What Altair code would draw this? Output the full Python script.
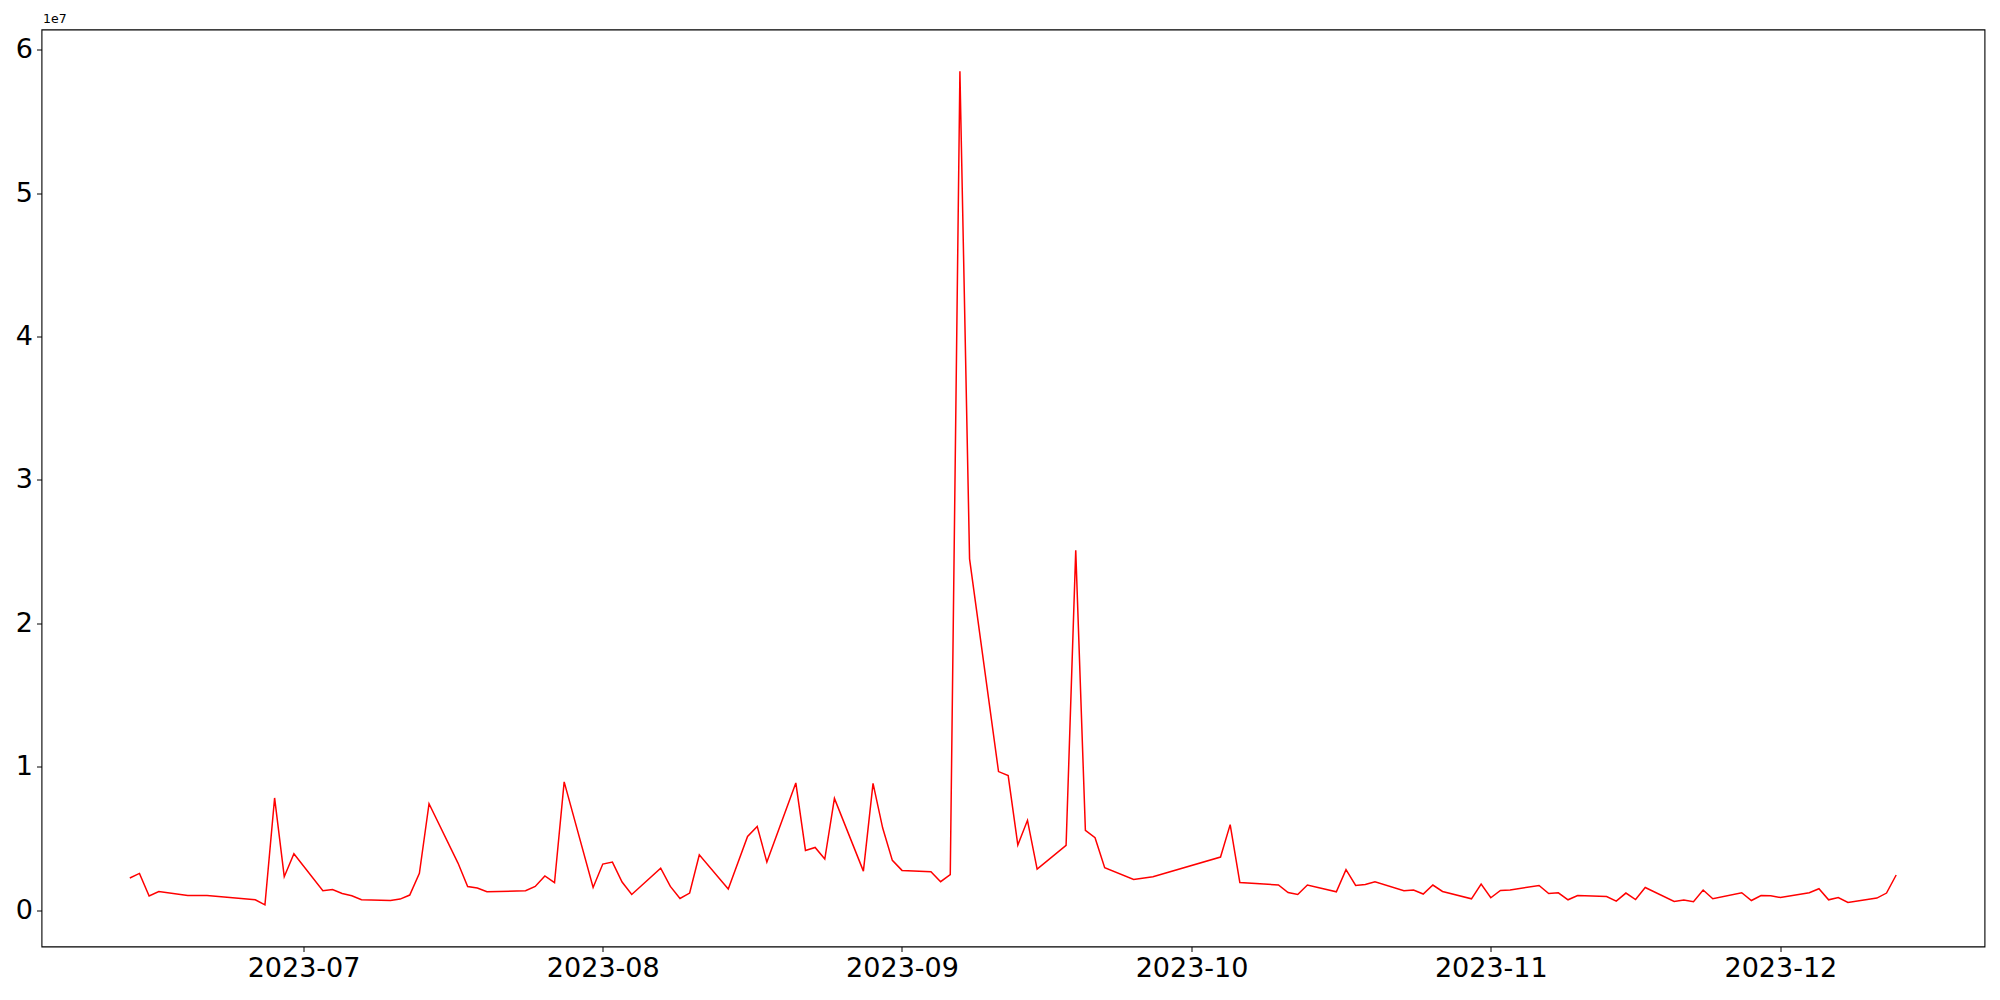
import altair as alt
import pandas as pd

dates = [
    "2023-06-13", "2023-06-14", "2023-06-15", "2023-06-16", "2023-06-19", "2023-06-21",
    "2023-06-26", "2023-06-27", "2023-06-28", "2023-06-29", "2023-06-30",
    "2023-07-03", "2023-07-04", "2023-07-05", "2023-07-06", "2023-07-07",
    "2023-07-10", "2023-07-11", "2023-07-12", "2023-07-13", "2023-07-14",
    "2023-07-17", "2023-07-18", "2023-07-19", "2023-07-20",
    "2023-07-24", "2023-07-25", "2023-07-26", "2023-07-27", "2023-07-28",
    "2023-07-31", "2023-08-01", "2023-08-02", "2023-08-03", "2023-08-04",
    "2023-08-07", "2023-08-08", "2023-08-09", "2023-08-10", "2023-08-11",
    "2023-08-14", "2023-08-16", "2023-08-17", "2023-08-18",
    "2023-08-21", "2023-08-22", "2023-08-23", "2023-08-24", "2023-08-25",
    "2023-08-28", "2023-08-29", "2023-08-30", "2023-08-31", "2023-09-01",
    "2023-09-04", "2023-09-05", "2023-09-06", "2023-09-07", "2023-09-08",
    "2023-09-11", "2023-09-12", "2023-09-13", "2023-09-14", "2023-09-15",
    "2023-09-18", "2023-09-19", "2023-09-20", "2023-09-21", "2023-09-22",
    "2023-09-25", "2023-09-27",
    "2023-10-04", "2023-10-05", "2023-10-06",
    "2023-10-10", "2023-10-11", "2023-10-12", "2023-10-13",
    "2023-10-16", "2023-10-17", "2023-10-18", "2023-10-19", "2023-10-20",
    "2023-10-23", "2023-10-24", "2023-10-25", "2023-10-26", "2023-10-27",
    "2023-10-30", "2023-10-31", "2023-11-01", "2023-11-02", "2023-11-03",
    "2023-11-06", "2023-11-07", "2023-11-08", "2023-11-09", "2023-11-10",
    "2023-11-13", "2023-11-14", "2023-11-15", "2023-11-16", "2023-11-17",
    "2023-11-20", "2023-11-21", "2023-11-22", "2023-11-23", "2023-11-24",
    "2023-11-27", "2023-11-28", "2023-11-29", "2023-11-30", "2023-12-01",
    "2023-12-04", "2023-12-05", "2023-12-06", "2023-12-07", "2023-12-08",
    "2023-12-11", "2023-12-12", "2023-12-13",
]

values = [
    2.25e6, 2.57e6, 1.00e6, 1.30e6, 1.03e6, 1.03e6,
    0.73e6, 0.38e6, 7.83e6, 2.34e6, 3.94e6,
    1.36e6, 1.45e6, 1.17e6, 1.01e6, 0.73e6,
    0.68e6, 0.78e6, 1.06e6, 2.57e6, 7.43e6,
    3.29e6, 1.66e6, 1.55e6, 1.29e6,
    1.36e6, 1.66e6, 2.39e6, 1.92e6, 8.95e6,
    1.59e6, 3.22e6, 3.36e6, 1.97e6, 1.10e6,
    2.94e6, 1.66e6, 0.82e6, 1.20e6, 3.87e6,
    1.48e6, 5.15e6, 5.85e6, 3.36e6,
    8.88e6, 4.17e6, 4.38e6, 3.57e6, 7.80e6,
    2.73e6, 8.85e6, 5.73e6, 3.48e6, 2.78e6,
    2.69e6, 1.99e6, 2.48e6, 58.5e6, 24.5e6,
    9.67e6, 9.39e6, 4.55e6, 6.27e6, 2.87e6,
    4.52e6, 25.09e6, 5.57e6, 5.06e6, 2.97e6,
    2.15e6, 2.34e6,
    3.71e6, 5.97e6, 1.94e6,
    1.76e6, 1.24e6, 1.10e6, 1.76e6,
    1.29e6, 2.83e6, 1.73e6, 1.80e6, 1.99e6,
    1.36e6, 1.41e6, 1.13e6, 1.76e6, 1.31e6,
    0.80e6, 1.83e6, 0.87e6, 1.38e6, 1.41e6,
    1.73e6, 1.17e6, 1.22e6, 0.73e6, 1.03e6,
    0.96e6, 0.64e6, 1.20e6, 0.75e6, 1.59e6,
    0.61e6, 0.71e6, 0.59e6, 1.41e6, 0.80e6,
    1.22e6, 0.68e6, 1.03e6, 1.01e6, 0.89e6,
    1.22e6, 1.50e6, 0.73e6, 0.89e6, 0.54e6,
    0.85e6, 1.20e6, 2.46e6,
]

month_ticks = ["2023-07-01", "2023-08-01", "2023-09-01", "2023-10-01", "2023-11-01", "2023-12-01"]
y_ticks = [0, 1e7, 2e7, 3e7, 4e7, 5e7, 6e7]

df = pd.DataFrame({"date": dates, "value": values})

# matplotlib-like 5% margins
ts = pd.to_datetime(df["date"])
tmin, tmax = ts.min(), ts.max()
tpad = (tmax - tmin) * 0.05
x_dom = [int((tmin - tpad).timestamp() * 1000), int((tmax + tpad).timestamp() * 1000)]
vmin, vmax = min(values), max(values)
vpad = (vmax - vmin) * 0.05
y_dom = [vmin - vpad, vmax + vpad]

tick_ms = [int(pd.Timestamp(t).timestamp() * 1000) for t in month_ticks]

FONT = "DejaVu Sans"

chart = (
    alt.Chart(df)
    .mark_line(color="#ff0000", strokeWidth=1.5, clip=True)
    .encode(
        x=alt.X(
            "date:T",
            scale=alt.Scale(type="utc", domain=x_dom, nice=False),
            axis=alt.Axis(
                values=tick_ms,
                labelExpr="utcFormat(datum.value, '%Y-%m')",
                title=None,
                grid=False,
                domain=False,
                tickSize=5,
                tickWidth=1,
                tickColor="black",
                labelPadding=4,
                labelFontSize=27,
                labelFont=FONT,
                labelColor="black",
                labelFlush=False,
                labelOverlap=False,
            ),
        ),
        y=alt.Y(
            "value:Q",
            scale=alt.Scale(domain=y_dom, nice=False, zero=False),
            axis=alt.Axis(
                values=y_ticks,
                labelExpr="format(datum.value / 1e7, 'd')",
                title="1e7",
                titleAngle=0,
                titleAlign="left",
                titleBaseline="bottom",
                titleX=1,
                titleY=-4,
                titleFont=FONT,
                titleFontSize=12.5,
                titleFontWeight="normal",
                titleColor="black",
                grid=False,
                domain=False,
                tickSize=5,
                tickWidth=1,
                tickColor="black",
                labelPadding=4,
                labelFontSize=27,
                labelFont=FONT,
                labelColor="black",
                labelFlush=False,
                labelOverlap=False,
            ),
        ),
    )
    .properties(
        width=1943,
        height=917,
        background="white",
        autosize=alt.AutoSizeParams(type="none"),
        padding={"left": 33.5, "top": 21.5, "right": 5, "bottom": 40},
    )
    .configure_view(stroke="#000000", strokeWidth=1.1, strokeOpacity=1)
)

chart.save("out.html", embed_options={"renderer": "svg", "actions": False})
